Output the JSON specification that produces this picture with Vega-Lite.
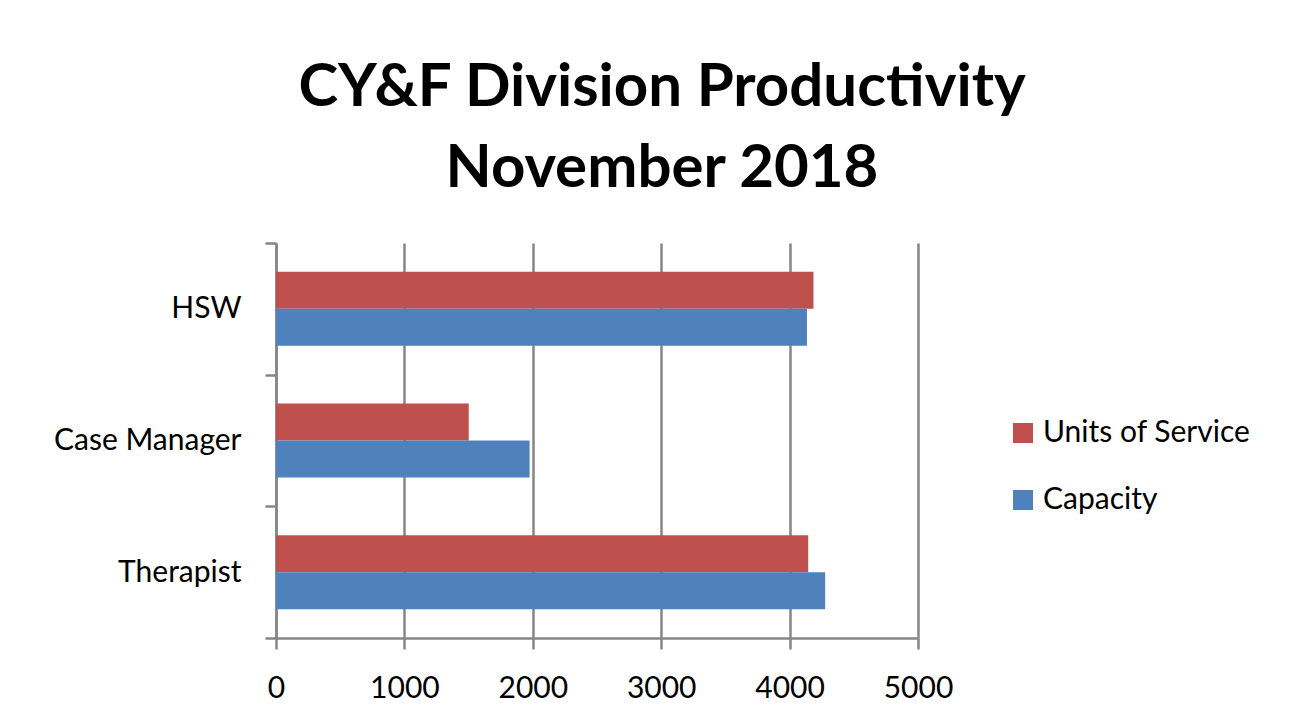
{
  "$schema": "https://vega.github.io/schema/vega-lite/v6.json",
  "width": 642,
  "height": 395,
  "autosize": {"type": "none"},
  "padding": {"left": 276, "top": 243, "right": 397, "bottom": 87},
  "background": "white",
  "title": {
    "text": ["CY&F Division Productivity", "November 2018"],
    "font": "Lato",
    "fontSize": 60,
    "fontWeight": "bold",
    "color": "#000000",
    "anchor": "middle",
    "frame": "group",
    "dx": 65,
    "offset": 28,
    "lineHeight": 81
  },
  "data": {
    "values": [
      {"role": "HSW", "series": "Units of Service", "value": 4186},
      {"role": "HSW", "series": "Capacity", "value": 4135},
      {"role": "Case Manager", "series": "Units of Service", "value": 1501},
      {"role": "Case Manager", "series": "Capacity", "value": 1975},
      {"role": "Therapist", "series": "Units of Service", "value": 4145},
      {"role": "Therapist", "series": "Capacity", "value": 4277}
    ]
  },
  "mark": {"type": "bar"},
  "encoding": {
    "y": {
      "field": "role",
      "type": "nominal",
      "sort": ["HSW", "Case Manager", "Therapist"],
      "scale": {"paddingInner": 0, "paddingOuter": 0},
      "axis": {
        "title": null,
        "tickBand": "extent",
        "tickSize": 11,
        "tickWidth": 2.5,
        "tickColor": "#868686",
        "domainColor": "#868686",
        "domainWidth": 2.5,
        "labelFont": "Lato",
        "labelFontSize": 30,
        "labelColor": "#000000",
        "labelPadding": 24,
        "labelLimit": 400,
        "grid": false
      }
    },
    "yOffset": {
      "field": "series",
      "type": "nominal",
      "sort": ["Units of Service", "Capacity"],
      "scale": {"paddingInner": 0, "paddingOuter": 0.78}
    },
    "x": {
      "field": "value",
      "type": "quantitative",
      "scale": {"domain": [0, 5000], "nice": false},
      "axis": {
        "title": null,
        "values": [0, 1000, 2000, 3000, 4000, 5000],
        "format": "d",
        "grid": true,
        "gridColor": "#868686",
        "gridWidth": 2.5,
        "tickSize": 11,
        "tickWidth": 2.5,
        "tickColor": "#868686",
        "domainColor": "#868686",
        "domainWidth": 2.5,
        "labelFont": "Lato",
        "labelFontSize": 30,
        "labelColor": "#000000",
        "labelPadding": 24,
        "labelFlush": false
      }
    },
    "color": {
      "field": "series",
      "type": "nominal",
      "scale": {"domain": ["Units of Service", "Capacity"], "range": ["#C0504D", "#4F81BD"]},
      "legend": {
        "title": null,
        "orient": "none",
        "legendX": 732,
        "legendY": 175,
        "symbolType": "square",
        "symbolSize": 400,
        "symbolStrokeWidth": 0,
        "labelFont": "Lato",
        "labelFontSize": 30,
        "labelColor": "#000000",
        "labelOffset": 5,
        "labelLimit": 400,
        "rowPadding": 37
      }
    }
  },
  "config": {
    "view": {"stroke": null},
    "bar": {"stroke": null}
  }
}
